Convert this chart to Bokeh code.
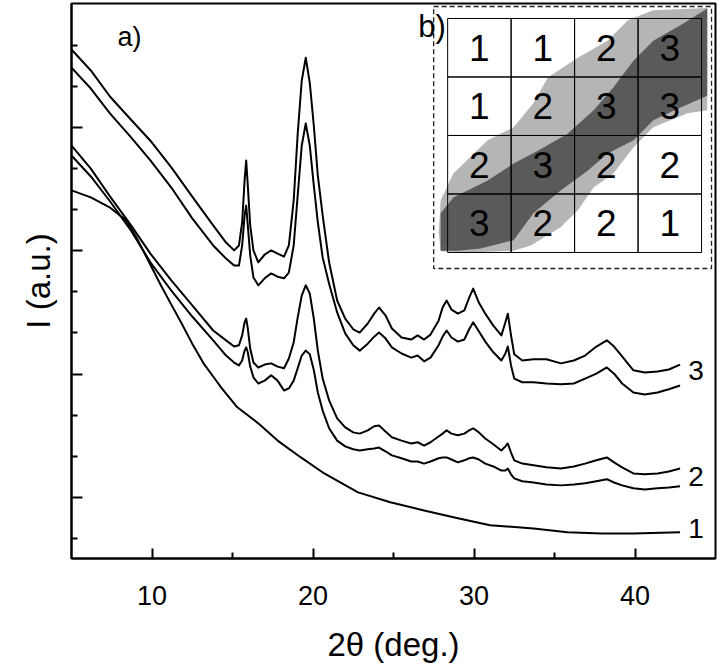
from bokeh.plotting import figure
from bokeh.models import Range1d, FixedTicker, Title
from bokeh.embed import file_html
from bokeh.resources import INLINE
from bokeh.core.properties import value

FONT = "Liberation Sans"

# ---------------- data ----------------
# common 2theta grid for the four sample curves (pairs "3" and "2")
theta = [5.0, 6.2, 7.4, 8.7, 9.9, 11.2, 12.5, 13.8, 14.6, 15.1,
         15.4, 15.6, 15.75, 15.85, 15.95, 16.1, 16.3, 16.6, 17.0, 17.4,
         17.8, 18.2, 18.5, 18.8, 19.05, 19.3, 19.55, 19.8, 20.05, 20.3,
         20.6, 21.0, 21.5, 22.0, 22.5, 22.9, 23.4, 23.8, 24.1, 24.5,
         24.9, 25.5, 26.1, 26.5, 26.9, 27.3, 27.8, 28.05, 28.3, 28.6,
         29.0, 29.4, 29.7, 29.95, 30.3, 30.7, 31.2, 31.7, 31.95, 32.1,
         32.3, 32.5, 33.0, 33.7, 34.5, 35.4, 36.2, 36.9, 37.6, 38.25,
         38.7, 39.2, 39.9, 40.6, 41.4, 42.1, 42.8]

I_3_upper = [13.90, 13.39, 12.75, 12.19, 11.68, 11.03, 10.32, 9.62, 9.20, 9.01,
             9.13, 9.69, 10.71, 11.20, 10.59, 9.62, 9.01, 8.72, 8.91, 9.01,
             8.93, 8.86, 9.13, 10.22, 11.85, 13.14, 13.70, 13.09, 12.05, 10.83,
             9.86, 8.72, 7.79, 7.35, 7.09, 7.01, 7.23, 7.47, 7.62, 7.43,
             7.11, 6.89, 6.84, 6.94, 6.84, 6.96, 7.30, 7.62, 7.79, 7.57,
             7.47, 7.55, 7.86, 8.08, 7.74, 7.47, 7.18, 6.94, 7.26, 7.47,
             6.94, 6.48, 6.33, 6.36, 6.36, 6.26, 6.33, 6.45, 6.67, 6.82,
             6.67, 6.43, 6.09, 6.04, 6.06, 6.11, 6.23]

I_3_lower = [13.46, 12.95, 12.34, 11.76, 11.20, 10.54, 9.79, 9.13, 8.81, 8.64,
             8.64, 9.13, 9.86, 10.10, 9.62, 8.89, 8.35, 8.16, 8.33, 8.45,
             8.37, 8.33, 8.47, 9.13, 10.35, 11.56, 12.10, 11.56, 10.59, 9.69,
             8.84, 8.20, 7.50, 6.99, 6.70, 6.57, 6.74, 6.91, 7.01, 6.87,
             6.65, 6.50, 6.40, 6.45, 6.31, 6.40, 6.70, 6.91, 7.06, 6.89,
             6.79, 6.84, 7.09, 7.26, 7.04, 6.79, 6.53, 6.33, 6.50, 6.67,
             6.21, 5.89, 5.80, 5.80, 5.77, 5.75, 5.77, 5.89, 6.01, 6.16,
             6.01, 5.77, 5.55, 5.50, 5.55, 5.63, 5.72]

I_2_upper = [11.56, 11.00, 10.32, 9.62, 8.93, 8.28, 7.67, 7.06, 6.82, 6.67,
             6.70, 6.94, 7.26, 7.35, 7.11, 6.62, 6.28, 6.16, 6.23, 6.26,
             6.18, 6.14, 6.38, 6.77, 7.38, 7.91, 8.16, 7.96, 7.35, 6.57,
             5.89, 5.36, 4.92, 4.70, 4.58, 4.55, 4.63, 4.73, 4.75, 4.60,
             4.46, 4.38, 4.31, 4.34, 4.26, 4.34, 4.48, 4.55, 4.63, 4.55,
             4.51, 4.55, 4.63, 4.68, 4.58, 4.43, 4.29, 4.14, 4.24, 4.31,
             4.09, 3.90, 3.82, 3.78, 3.73, 3.70, 3.75, 3.82, 3.90, 3.97,
             3.85, 3.73, 3.58, 3.56, 3.58, 3.63, 3.70]

I_2_lower = [11.32, 10.81, 10.20, 9.49, 8.72, 8.03, 7.40, 6.82, 6.45, 6.28,
             6.21, 6.33, 6.57, 6.65, 6.53, 6.18, 5.92, 5.77, 5.84, 5.97,
             5.84, 5.60, 5.65, 5.84, 6.14, 6.45, 6.57, 6.48, 6.10, 5.55,
             5.11, 4.68, 4.38, 4.24, 4.17, 4.14, 4.17, 4.19, 4.21, 4.12,
             4.02, 3.95, 3.87, 3.87, 3.82, 3.87, 3.95, 3.97, 3.97, 3.92,
             3.85, 3.90, 3.95, 3.97, 3.92, 3.82, 3.75, 3.65, 3.65, 3.70,
             3.56, 3.46, 3.39, 3.36, 3.31, 3.29, 3.31, 3.34, 3.39, 3.44,
             3.36, 3.29, 3.22, 3.19, 3.22, 3.24, 3.27]

theta_1 = [5.0, 6.2, 7.4, 8.4, 9.0, 9.6, 10.55, 11.2, 11.8, 12.5,
           13.2, 13.8, 14.3, 15.3, 16.6, 17.8, 19.25, 20.7, 22.8, 24.8,
           26.9, 29.0, 31.0, 33.7, 35.8, 37.9, 39.9, 42.8]
I_1 = [10.47, 10.30, 10.05, 9.74, 9.35, 8.89, 8.16, 7.69, 7.26, 6.74,
       6.26, 5.94, 5.67, 5.19, 4.80, 4.38, 3.97, 3.58, 3.12, 2.88,
       2.68, 2.49, 2.32, 2.24, 2.15, 2.12, 2.12, 2.15]

curve_labels = ["3", "2", "1"]
curve_label_x = [43.3, 43.3, 43.3]
curve_label_y = [6.08, 3.5, 2.25]

x_ticks = [10, 20, 30, 40]
x_minor = [15, 25, 35]
y_ticks = [3, 6, 9, 12]
y_minor = [2, 4, 5, 7, 8, 10, 11, 13, 14]

# inset b): 4x4 map, rows listed from top to bottom
inset_rows = [["1", "1", "2", "3"],
              ["1", "2", "3", "3"],
              ["2", "3", "2", "2"],
              ["3", "2", "2", "1"]]
light_x = [-0.14, -0.11, 0.09, 0.63, 1.04, 1.35, 1.58, 2.05, 2.52, 2.84, 3.24, 4.09,
           4.09, 3.78, 3.24, 2.93, 2.61, 2.30, 2.05, 1.78, 1.31, 1.04, 0.36, -0.11]
light_y = [0.34, 0.89, 1.35, 1.92, 2.14, 2.55, 2.99, 3.33, 3.62, 3.97, 4.14, 4.18,
           2.43, 2.38, 2.14, 1.80, 1.35, 1.11, 0.72, 0.43, 0.12, 0.03, 0.00, 0.02]
dark_x = [-0.11, 0.09, 0.63, 1.04, 1.42, 1.89, 2.30, 2.61, 2.93, 3.24, 3.72, 4.09,
          4.09, 3.67, 3.24, 2.93, 2.52, 2.21, 1.78, 1.35, 1.04, 0.52, 0.16, -0.11]
dark_y = [0.67, 0.94, 1.23, 1.52, 1.74, 2.03, 2.43, 2.82, 3.28, 3.62, 3.92, 4.17,
          2.68, 2.48, 2.26, 1.92, 1.69, 1.40, 1.06, 0.67, 0.21, 0.07, 0.03, 0.03]

# ---------------- figure ----------------
p = figure(width=720, height=667,
           x_range=Range1d(5, 45), y_range=Range1d(1.51, 15.02),
           output_backend="svg", toolbar_location=None,
           min_border_left=71, min_border_right=5,
           min_border_top=3, min_border_bottom=109)
p.background_fill_color = "white"
p.border_fill_color = "white"
p.outline_line_color = "black"
p.outline_line_width = 2
p.xgrid.visible = False
p.ygrid.visible = False

p.xaxis.ticker = FixedTicker(ticks=x_ticks, minor_ticks=x_minor)
p.yaxis.ticker = FixedTicker(ticks=y_ticks, minor_ticks=y_minor)
for ax in (p.xaxis[0], p.yaxis[0]):
    ax.axis_line_color = "black"
    ax.axis_line_width = 2
    ax.major_tick_line_color = "black"
    ax.major_tick_line_width = 2
    ax.minor_tick_line_color = "black"
    ax.minor_tick_line_width = 2
    ax.major_tick_out = 0
    ax.minor_tick_out = 0
    ax.minor_tick_in = 6
    ax.axis_label_text_font = FONT
    ax.axis_label_text_font_style = "normal"
    ax.axis_label_text_color = "black"
    ax.major_label_text_font = FONT
    ax.major_label_text_color = "black"

p.xaxis.major_tick_in = 10
p.xaxis.major_label_text_font_size = "27px"
p.xaxis.major_label_standoff = 27
p.xaxis.axis_label = "2θ (deg.)"
p.xaxis.axis_label_text_font_size = "33px"
p.xaxis.axis_label_standoff = 18

p.yaxis.major_tick_in = 11
p.yaxis.major_label_overrides = {t: "" for t in y_ticks}
p.yaxis.major_label_standoff = 0

# y-axis title on the left side, shifted up and outward as in the reference
p.add_layout(Title(text="I (a.u.)", align="center", offset=80, standoff=30,
                   text_font=FONT, text_font_size="33px", text_font_style="normal",
                   text_color="black"), "left")

# curves
for ys in (I_3_upper, I_3_lower, I_2_upper, I_2_lower):
    p.line(theta, ys, line_color="black", line_width=2, line_join="round")
p.line(theta_1, I_1, line_color="black", line_width=2, line_join="round")

p.text(x=curve_label_x, y=curve_label_y, text=curve_labels,
       text_font=value(FONT), text_font_size="28px", text_color="black",
       text_align="left", text_baseline="middle")

p.text(x=[7.85], y=[14.2], text=["a)"], text_font=value(FONT),
       text_font_size="27px", text_color="black",
       text_align="left", text_baseline="middle")

# ---------------- inset b) on its own ranges ----------------
p.extra_x_ranges = {"ix": Range1d(-5.926, 4.220)}
p.extra_y_ranges = {"iy": Range1d(-5.231, 4.256)}

p.quad(left=[-0.22], right=[4.157], bottom=[-0.274], top=[4.205],
       x_range_name="ix", y_range_name="iy",
       fill_color="white", line_color="#222222", line_width=1.3,
       line_dash="5 3")

p.patch(light_x, light_y, x_range_name="ix", y_range_name="iy",
        fill_color="#b5b5b5", line_color=None)
p.patch(dark_x, dark_y, x_range_name="ix", y_range_name="iy",
        fill_color="#5a5a5a", line_color=None)

n = len(inset_rows)
cell_col = [c for r in range(n) for c in range(n)]
cell_row = [n - 1 - r for r in range(n) for c in range(n)]
cell_txt = [inset_rows[r][c] for r in range(n) for c in range(n)]
p.quad(left=cell_col, right=[c + 1 for c in cell_col],
       bottom=cell_row, top=[r + 1 for r in cell_row],
       x_range_name="ix", y_range_name="iy",
       fill_color=None, line_color="black", line_width=1)
p.text(x=[c + 0.5 for c in cell_col], y=[r + 0.5 for r in cell_row], text=cell_txt,
       x_range_name="ix", y_range_name="iy",
       text_font=value(FONT), text_font_size="37px", text_color="black",
       text_align="center", text_baseline="middle")

p.text(x=[-0.03], y=[3.86], text=["b)"], x_range_name="ix", y_range_name="iy",
       text_font=value(FONT), text_font_size="31px", text_color="black",
       text_align="right", text_baseline="middle")

open("out.html", "w").write(file_html(p, INLINE))
